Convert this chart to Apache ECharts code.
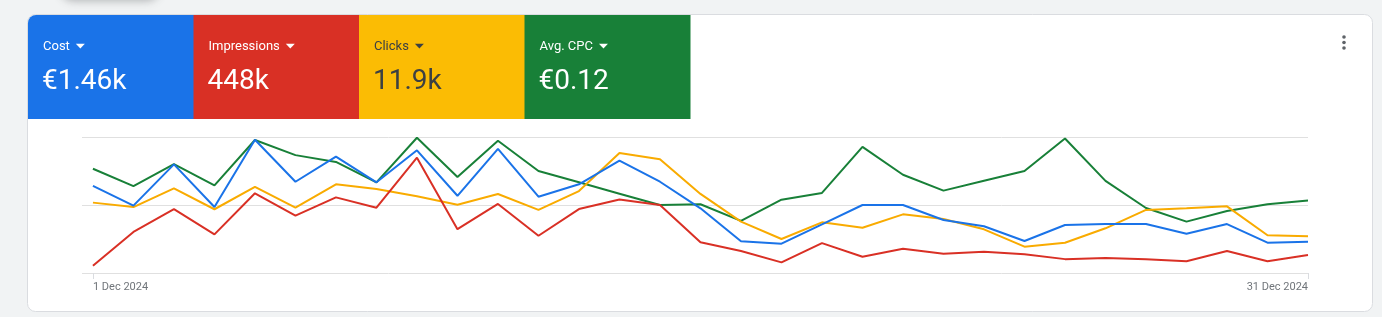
<!DOCTYPE html>
<html>
<head>
<meta charset="utf-8">
<script src="https://cdn.jsdelivr.net/npm/echarts@6/dist/echarts.min.js"></script>
<style>
html,body{margin:0;padding:0;background:#f1f3f4;}
#chart{width:1382px;height:317px;}
</style>
</head>
<body>
<div id="chart"></div>
<script>
// ---- data ----
const days = ['1 Dec','2 Dec','3 Dec','4 Dec','5 Dec','6 Dec','7 Dec','8 Dec','9 Dec','10 Dec',
  '11 Dec','12 Dec','13 Dec','14 Dec','15 Dec','16 Dec','17 Dec','18 Dec','19 Dec','20 Dec',
  '21 Dec','22 Dec','23 Dec','24 Dec','25 Dec','26 Dec','27 Dec','28 Dec','29 Dec','30 Dec','31 Dec'];
const tickLabels = ['1 Dec 2024', '31 Dec 2024'];
const tickIndex = [0, 30];

const metricNames = ['Cost', 'Impressions', 'Clicks', 'Avg. CPC'];
const metricTotals = ['€1.46k', '448k', '11.9k', '€0.12'];

const cost = [57.6, 44.6, 71.9, 43.7, 88.2, 60.4, 77.0, 60.0, 81.2, 51.1,
  82.1, 50.5, 58.7, 74.3, 60.4, 42.8, 21.0, 19.4, 32.2, 45.0,
  45.0, 35.1, 30.9, 21.2, 31.8, 32.4, 32.4, 26.0, 32.4, 20.1, 20.7];
const impressions = [2700, 15100, 23500, 14200, 29300, 21100, 27800, 24000, 42400, 16100,
  25400, 13700, 23500, 27000, 25000, 11300, 8100, 3900, 11000, 6000,
  8900, 7100, 7800, 6900, 5100, 5500, 5100, 4300, 8100, 4300, 6600];
const clicks = [414, 388, 498, 375, 506, 384, 522, 494, 451, 402,
  465, 371, 482, 706, 669, 465, 302, 200, 298, 266,
  345, 318, 257, 155, 178, 263, 371, 381, 392, 222, 216];
const avgCpc = [0.138, 0.115, 0.144, 0.116, 0.176, 0.156, 0.147, 0.120, 0.179, 0.127,
  0.175, 0.135, 0.120, 0.105, 0.090, 0.091, 0.069, 0.097, 0.106, 0.167,
  0.130, 0.109, 0.122, 0.135, 0.178, 0.122, 0.086, 0.068, 0.082, 0.091, 0.096];

// ---- styling ----
const colors = ['#1a73e8', '#d93025', '#fbbc04', '#188038'];
const lineColors = ['#1a73e8', '#d93025', '#f9ab00', '#188038'];
const textColors = ['#ffffff', '#ffffff', '#3c4043', '#ffffff'];
const axisMax = [90, 50000, 800, 0.18];
const FONT = 'Roboto, "Noto Sans", sans-serif';

const seriesValues = [cost, impressions, clicks, avgCpc];

const chart = echarts.init(document.getElementById('chart'), null, {renderer: 'canvas'});

const measureCtx = document.createElement('canvas').getContext('2d');
measureCtx.font = '13px ' + FONT;

// tiles
const graphics = [];
graphics.push({
  type: 'rect', silent: true, z: -10,
  shape: {x: 60, y: -30, width: 100, height: 30, r: 14},
  style: {fill: '#ffffff', shadowBlur: 8, shadowColor: 'rgba(60,64,67,0.35)', shadowOffsetY: 1}
});
graphics.push({
  type: 'rect', silent: true, z: -5,
  shape: {x: 27.5, y: 14.5, width: 1345, height: 297, r: 8},
  style: {fill: '#ffffff', stroke: '#dadce0', lineWidth: 1}
});
const tileW = 165.5;
metricNames.forEach((name, i) => {
  const x = 28 + i * tileW;
  graphics.push({
    type: 'rect', silent: true, z: 1,
    shape: {x: x, y: 15, width: tileW + 0.5, height: 104, r: i === 0 ? [8, 0, 0, 0] : 0},
    style: {fill: colors[i]}
  });
  graphics.push({
    type: 'text', silent: true, z: 2,
    x: x + 15, y: 47,
    style: {
      text: name, fontSize: 13, fontFamily: FONT, fill: textColors[i],
      verticalAlign: 'middle'
    }
  });
  const tx = x + 15 + measureCtx.measureText(name).width + 6;
  graphics.push({
    type: 'polygon', silent: true, z: 2,
    shape: {points: [[tx, 43.8], [tx + 9, 43.8], [tx + 4.5, 48.5]]},
    style: {fill: textColors[i]}
  });
  graphics.push({
    type: 'text', silent: true, z: 2,
    x: x + 14, y: 82,
    style: {
      text: metricTotals[i], fontSize: 28, fontFamily: FONT, fill: textColors[i],
      verticalAlign: 'middle'
    }
  });
});
[37, 42.5, 48].forEach(cy => {
  graphics.push({type: 'circle', silent: true, z: 2, shape: {cx: 1344, cy: cy, r: 1.8}, style: {fill: '#5f6368'}});
});

const yAxes = axisMax.map((m, i) => ({
  type: 'value', min: 0, max: m, interval: m / 2,
  show: true,
  axisLine: {show: false}, axisTick: {show: false}, axisLabel: {show: false},
  splitLine: {show: i === 0, lineStyle: {color: '#e0e0e0', width: 1}}
}));

const series = seriesValues.map((vals, i) => ({
  type: 'line',
  name: metricNames[i],
  yAxisIndex: i,
  data: vals.map((v, d) => [d, v]),
  symbol: 'none',
  lineStyle: {width: 2, color: lineColors[i]},
  itemStyle: {color: lineColors[i]},
  z: 10 - i
}));

chart.setOption({
  animation: false,
  backgroundColor: 'transparent',
  grid: {left: 82, right: 74, top: 137, bottom: 44, containLabel: false},
  xAxis: {
    type: 'value', min: -0.27, max: days.length - 1,
    axisLine: {show: false},
    splitLine: {show: false},
    axisTick: {show: true, customValues: tickIndex, length: 6, lineStyle: {color: '#dadce0'}},
    axisLabel: {
      show: true, customValues: tickIndex,
      formatter: v => tickLabels[tickIndex.indexOf(Math.round(v))] || '',
      color: '#70757a', fontSize: 11, fontFamily: FONT, margin: 9,
      alignMinLabel: 'left', alignMaxLabel: 'right'
    }
  },
  yAxis: yAxes,
  series: series,
  graphic: graphics
});
</script>
</body>
</html>
